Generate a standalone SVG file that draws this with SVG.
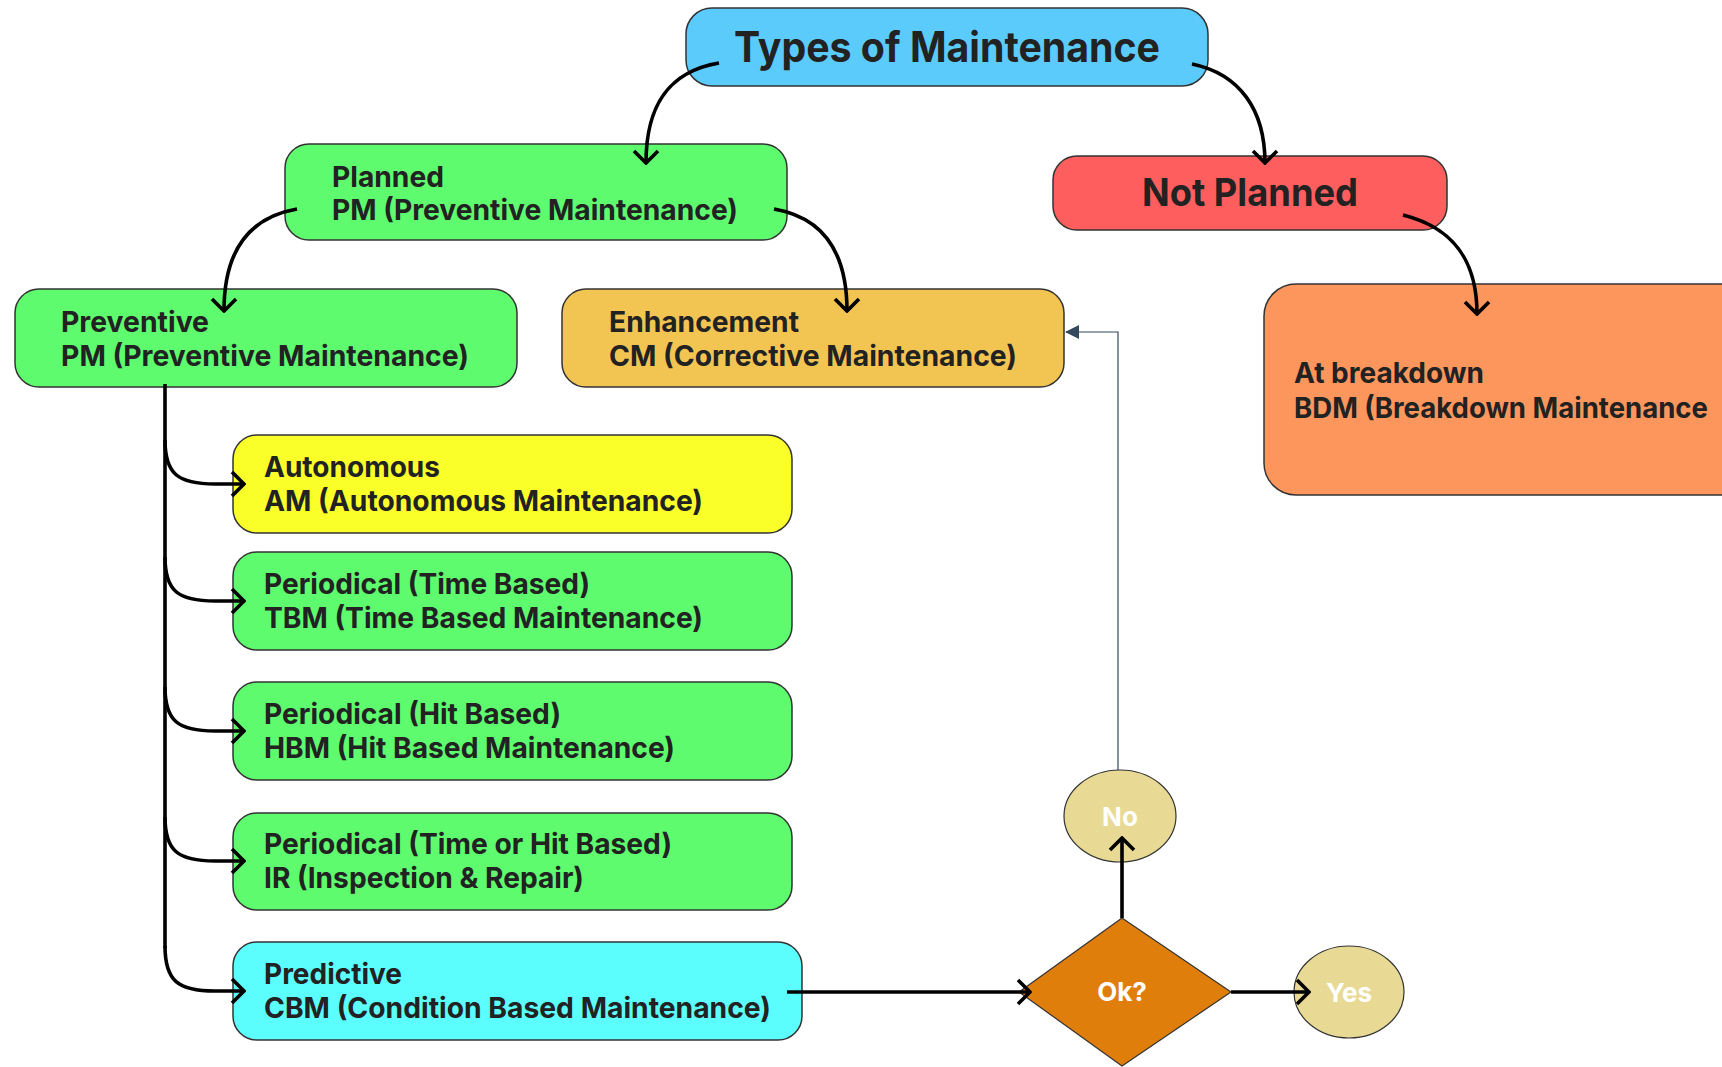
<svg xmlns="http://www.w3.org/2000/svg" width="1722" height="1067" viewBox="0 0 1722 1067">
<style>
.box{stroke:#333;stroke-width:1.5}
.t{font-family:Inter,"Noto Sans","Liberation Sans",sans-serif;font-weight:700;font-size:29px;fill:#222}
.big{font-family:Inter,"Noto Sans","Liberation Sans",sans-serif;font-weight:700;fill:#222}
.w{font-family:Inter,"Noto Sans","Liberation Sans",sans-serif;font-weight:700;font-size:26px;fill:#fff}
.c{fill:none;stroke:#000;stroke-width:3.6}
.thin{fill:none;stroke:#34495E;stroke-width:1.2}
</style>
<defs>
<marker id="chev" viewBox="0 0 16 28" markerWidth="16" markerHeight="28" refX="14" refY="14" orient="auto" markerUnits="userSpaceOnUse">
<path d="M2,2 L14,14 L2,26" fill="none" stroke="#000" stroke-width="3.6"/>
</marker>
<marker id="tri" viewBox="0 0 14 14" markerWidth="14" markerHeight="14" refX="13" refY="7" orient="auto" markerUnits="userSpaceOnUse">
<path d="M0,0 L14,7 L0,14 Z" fill="#34495E"/>
</marker>
</defs>
<rect width="1722" height="1067" fill="#fff"/>

<g id="types">
<rect class="box" x="686" y="8" width="522" height="78" rx="26" fill="#5BCBFC"/>
<text class="big" x="947" y="62" font-size="42" text-anchor="middle" textLength="426" lengthAdjust="spacingAndGlyphs">Types of Maintenance</text>
</g>
<g id="planned">
<rect class="box" x="285" y="144" width="502" height="96" rx="24" fill="#5EFB6E"/>
<text class="t" x="332" y="187" textLength="112" lengthAdjust="spacingAndGlyphs">Planned</text>
<text class="t" x="332" y="220" textLength="406" lengthAdjust="spacingAndGlyphs">PM (Preventive Maintenance)</text>
</g>
<g id="notplanned">
<rect class="box" x="1053" y="156" width="394" height="74" rx="24" fill="#FF5E5E"/>
<text class="big" x="1250" y="206" font-size="38" text-anchor="middle" textLength="216" lengthAdjust="spacingAndGlyphs">Not Planned</text>
</g>
<g id="preventive">
<rect class="box" x="15" y="289" width="502" height="98" rx="24" fill="#5EFB6E"/>
<text class="t" x="61" y="332" textLength="148" lengthAdjust="spacingAndGlyphs">Preventive</text>
<text class="t" x="61" y="366" textLength="408" lengthAdjust="spacingAndGlyphs">PM (Preventive Maintenance)</text>
</g>
<g id="enhancement">
<rect class="box" x="562" y="289" width="502" height="98" rx="24" fill="#F2C553"/>
<text class="t" x="609" y="332" textLength="190" lengthAdjust="spacingAndGlyphs">Enhancement</text>
<text class="t" x="609" y="366" textLength="408" lengthAdjust="spacingAndGlyphs">CM (Corrective Maintenance)</text>
</g>
<g id="breakdown">
<rect class="box" x="1264" y="284" width="520" height="211" rx="32" fill="#FC965C"/>
<text class="t" x="1294" y="383" textLength="190" lengthAdjust="spacingAndGlyphs">At breakdown</text>
<text class="t" x="1294" y="418" textLength="414" lengthAdjust="spacingAndGlyphs">BDM (Breakdown Maintenance</text>
</g>
<g id="autonomous">
<rect class="box" x="233" y="435" width="559" height="98" rx="24" fill="#FAFF2A"/>
<text class="t" x="264" y="477" textLength="176" lengthAdjust="spacingAndGlyphs">Autonomous</text>
<text class="t" x="264" y="511" textLength="439" lengthAdjust="spacingAndGlyphs">AM (Autonomous Maintenance)</text>
</g>
<g id="tbm">
<rect class="box" x="233" y="552" width="559" height="98" rx="24" fill="#5EFB6E"/>
<text class="t" x="264" y="594" textLength="326" lengthAdjust="spacingAndGlyphs">Periodical (Time Based)</text>
<text class="t" x="264" y="628" textLength="439" lengthAdjust="spacingAndGlyphs">TBM (Time Based Maintenance)</text>
</g>
<g id="hbm">
<rect class="box" x="233" y="682" width="559" height="98" rx="24" fill="#5EFB6E"/>
<text class="t" x="264" y="724" textLength="297" lengthAdjust="spacingAndGlyphs">Periodical (Hit Based)</text>
<text class="t" x="264" y="758" textLength="411" lengthAdjust="spacingAndGlyphs">HBM (Hit Based Maintenance)</text>
</g>
<g id="ir">
<rect class="box" x="233" y="813" width="559" height="97" rx="24" fill="#5EFB6E"/>
<text class="t" x="264" y="854" textLength="408" lengthAdjust="spacingAndGlyphs">Periodical (Time or Hit Based)</text>
<text class="t" x="264" y="888" textLength="320" lengthAdjust="spacingAndGlyphs">IR (Inspection &amp; Repair)</text>
</g>
<g id="cbm">
<rect class="box" x="233" y="942" width="569" height="98" rx="24" fill="#5CFDFD"/>
<text class="t" x="264" y="984" textLength="138" lengthAdjust="spacingAndGlyphs">Predictive</text>
<text class="t" x="264" y="1018" textLength="507" lengthAdjust="spacingAndGlyphs">CBM (Condition Based Maintenance)</text>
</g>
<g id="ok">
<polygon points="1122,918 1231,992 1122,1066 1019,992" fill="#E07E0C" stroke="#333" stroke-width="1.2"/>
<text class="w" x="1122" y="1001" text-anchor="middle">Ok?</text>
</g>
<g id="no">
<ellipse cx="1120" cy="816" rx="56" ry="46" fill="#E8DA94" stroke="#333" stroke-width="1.2"/>
<text class="w" x="1120" y="826" text-anchor="middle">No</text>
</g>
<g id="yes">
<ellipse cx="1349" cy="992" rx="55" ry="46" fill="#E8DA94" stroke="#333" stroke-width="1.2"/>
<text class="w" x="1349" y="1002" text-anchor="middle">Yes</text>
</g>

<g id="connectors">
<path class="c" d="M719,63 C665,72 646,110 646,163" marker-end="url(#chev)"/>
<path class="c" d="M1192,64 C1240,74 1265,110 1265,163" marker-end="url(#chev)"/>
<path class="c" d="M297,209 C245,218 224,255 224,311" marker-end="url(#chev)"/>
<path class="c" d="M774,209 C826,218 847,255 847,311" marker-end="url(#chev)"/>
<path class="c" d="M1403,215 C1455,228 1477,262 1477,314" marker-end="url(#chev)"/>
<path class="c" d="M165,384 V948"/>
<path class="c" d="M165,440 C165,474 178,484 215,484 L244,484" marker-end="url(#chev)"/>
<path class="c" d="M165,557 C165,591 178,601 215,601 L244,601" marker-end="url(#chev)"/>
<path class="c" d="M165,687 C165,721 178,731 215,731 L244,731" marker-end="url(#chev)"/>
<path class="c" d="M165,817 C165,851 178,861 215,861 L244,861" marker-end="url(#chev)"/>
<path class="c" d="M165,946 C165,981 178,991 215,991 L244,991" marker-end="url(#chev)"/>
<path class="c" d="M787,992 H1030" marker-end="url(#chev)"/>
<path class="c" d="M1122,918 V838" marker-end="url(#chev)"/>
<path class="c" d="M1231,992 H1309" marker-end="url(#chev)"/>
<path class="thin" d="M1118,770 V332 H1066" marker-end="url(#tri)"/>
</g>
</svg>
